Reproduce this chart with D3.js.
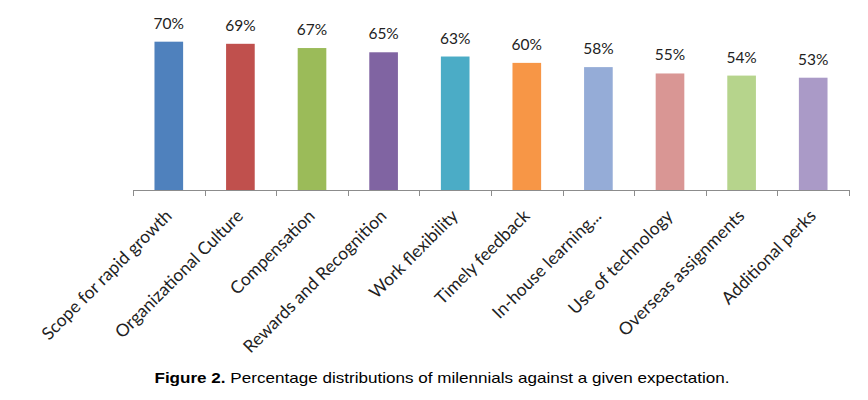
<!DOCTYPE html>
<html>
<head>
<meta charset="utf-8">
<script src="https://cdn.jsdelivr.net/npm/d3@7"></script>
<style>
  body { margin: 0; background: #fff; }
  svg { display: block; }
</style>
</head>
<body>
<svg id="chart" width="868" height="400"></svg>
<script>
// chart data
const categories = ['Scope for rapid growth', 'Organizational Culture', 'Compensation',
  'Rewards and Recognition', 'Work flexibility', 'Timely feedback', 'In-house learning...',
  'Use of technology', 'Overseas assignments', 'Additional perks'];
const values = [70, 69, 67, 65, 63, 60, 58, 55, 54, 53];
const colors = ['#4f81bd', '#c0504d', '#9bbb59', '#8064a2', '#4bacc6', '#f79646',
  '#95acd7', '#d99694', '#b6d48c', '#aa9ac7'];
const caption = 'Percentage distributions of milennials against a given expectation.';

const svg = d3.select('#chart');
const left = 133, right = 849, base = 190;

const x = d3.scaleBand().domain(categories).range([left, right]).paddingInner(0.6).paddingOuter(0.3);
const y = d3.scaleLinear().domain([0, 80]).range([base, 20.5]);

// bars
svg.selectAll('rect.bar')
  .data(categories)
  .join('rect')
  .attr('class', 'bar')
  .attr('x', d => x(d))
  .attr('width', x.bandwidth())
  .attr('y', (d, i) => y(values[i]))
  .attr('height', (d, i) => base - y(values[i]))
  .attr('fill', (d, i) => colors[i]);

// value labels
svg.selectAll('text.val')
  .data(categories)
  .join('text')
  .attr('class', 'val')
  .attr('x', d => x(d) + x.bandwidth() / 2)
  .attr('y', (d, i) => y(values[i]) - 13)
  .attr('text-anchor', 'middle')
  .attr('font-family', 'Lato, sans-serif')
  .attr('font-size', 15.5)
  .attr('fill', '#222')
  .text((d, i) => values[i] + '%');

// x axis: baseline with ticks between categories
const bounds = d3.range(categories.length + 1).map(i => left + i * (right - left) / categories.length);
const axis = svg.append('g').attr('stroke', '#8c8c8c').attr('stroke-width', 1);
axis.append('line').attr('x1', left).attr('x2', right).attr('y1', base + 0.5).attr('y2', base + 0.5);
axis.selectAll('line.tick')
  .data(bounds)
  .join('line')
  .attr('class', 'tick')
  .attr('x1', d => Math.round(d) + 0.5).attr('x2', d => Math.round(d) + 0.5)
  .attr('y1', base).attr('y2', base + 6);

// category labels rotated -45deg
svg.selectAll('text.cat')
  .data(categories)
  .join('text')
  .attr('class', 'cat')
  .attr('transform', d => `translate(${x(d) + x.bandwidth() / 2 + 4},${base + 27}) rotate(-45)`)
  .attr('text-anchor', 'end')
  .attr('font-family', 'Lato, sans-serif')
  .attr('font-size', 17.5)
  .attr('fill', '#222')
  .text(d => d);

// caption (the source figure is stretched sideways a little)
const cap = svg.append('text')
  .attr('transform', 'translate(442,383) scale(1.22,1)')
  .attr('text-anchor', 'middle')
  .attr('font-family', '"Liberation Sans", Arial, sans-serif')
  .attr('font-size', 14)
  .attr('fill', '#000');
cap.append('tspan').attr('font-weight', 'bold').text('Figure 2.');
cap.append('tspan').text(' ' + caption);
</script>
</body>
</html>
